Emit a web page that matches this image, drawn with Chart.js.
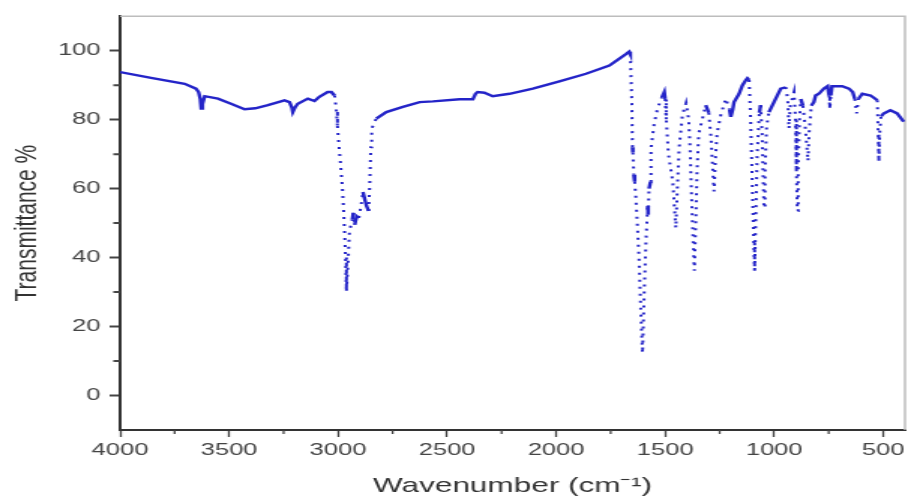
<!DOCTYPE html>
<html>
<head>
<meta charset="utf-8">
<script src="https://cdn.jsdelivr.net/npm/chart.js@4/dist/chart.umd.min.js"></script>
<style>
  html, body { margin: 0; padding: 0; background: #fff; overflow: hidden; }
  /* the reference is stretched sideways, so draw narrow and widen */
  #wrap { width: 607px; height: 500px; transform: scaleX(1.50082); transform-origin: 0 0; }
</style>
</head>
<body>
<div id="wrap"><canvas id="ir"></canvas></div>
<script>
// IR spectrum (cm-1, %T)
const wavenumber = [
  4000, 3858, 3704, 3652, 3640, 3632, 3628, 3622, 3612, 3551, 3500, 3429, 3380, 3322, 3246, 3223,
  3212, 3208, 3198, 3185, 3139, 3108, 3086, 3048, 3031, 3016, 3008, 3003, 2998, 2990, 2980, 2972,
  2966, 2962, 2955, 2948, 2935, 2930, 2924, 2915, 2905, 2895, 2886, 2878, 2870, 2860, 2855, 2850,
  2846, 2825, 2779, 2703, 2626, 2565, 2443, 2382, 2370, 2360, 2329, 2291, 2214, 2107, 1985, 1863,
  1756, 1680, 1665, 1660, 1653, 1650, 1648, 1644, 1640, 1635, 1628, 1620, 1612, 1604, 1596, 1588,
  1580, 1578, 1574, 1567, 1565, 1550, 1535, 1515, 1504, 1500, 1495, 1485, 1475, 1465, 1458, 1451,
  1444, 1436, 1421, 1404, 1392, 1386, 1380, 1372, 1366, 1360, 1354, 1346, 1330, 1314, 1300, 1290,
  1282, 1276, 1270, 1262, 1245, 1222, 1205, 1199, 1190, 1184, 1161, 1146, 1130, 1123, 1115, 1108,
  1100, 1094, 1090, 1085, 1078, 1068, 1062, 1055, 1050, 1047, 1042, 1035, 1024, 1001, 970, 947,
  938, 932, 926, 909, 902, 898, 894, 890, 884, 878, 868, 858, 850, 845, 840, 830,
  818, 810, 795, 772, 755, 748, 745, 740, 735, 688, 657, 640, 630, 622, 614, 596,
  558, 535, 527, 523, 520, 516, 510, 497, 467, 436, 406
];
const transmittance = [
  93.8, 92.1, 90.4, 89.0, 88.0, 86.0, 83.2, 84.5, 86.8, 86.1, 84.8, 83.0, 83.3, 84.2, 85.6, 85.1,
  83.5, 82.2, 83.5, 84.6, 86.1, 85.4, 86.6, 88.0, 88.0, 87.0, 82.7, 78.0, 74.0, 68.0, 60.0, 50.0,
  40.0, 30.4, 38.0, 47.7, 51.0, 53.0, 49.5, 52.0, 51.5, 55.0, 59.0, 57.0, 55.0, 53.5, 61.0, 72.0,
  77.4, 80.3, 82.2, 83.7, 85.1, 85.3, 85.9, 85.9, 87.5, 88.0, 87.8, 86.8, 87.5, 89.0, 91.1, 93.3,
  95.7, 99.0, 99.7, 99.0, 85.0, 72.0, 70.5, 64.0, 62.0, 58.0, 50.0, 40.0, 25.0, 12.3, 30.0, 45.0,
  55.0, 52.5, 60.0, 62.0, 71.7, 79.0, 83.2, 86.5, 88.0, 86.0, 80.0, 70.0, 66.0, 62.0, 55.0, 48.6,
  60.0, 71.7, 81.3, 84.8, 80.0, 72.0, 60.0, 45.0, 36.2, 50.0, 65.0, 76.0, 80.0, 84.2, 82.0, 75.0,
  66.0, 59.2, 68.0, 76.0, 81.3, 86.1, 83.0, 80.8, 83.0, 85.1, 87.5, 89.9, 91.5, 92.0, 91.5, 80.0,
  60.0, 45.0, 36.2, 50.0, 70.0, 82.0, 84.2, 75.0, 62.0, 54.4, 65.0, 78.0, 82.2, 85.1, 89.0, 89.4,
  86.0, 77.4, 84.0, 88.0, 80.0, 65.0, 53.5, 65.0, 80.0, 86.0, 84.0, 78.0, 72.0, 68.0, 76.0, 84.0,
  85.1, 87.0, 87.5, 89.0, 89.7, 87.0, 83.2, 87.0, 89.7, 89.7, 89.0, 88.0, 86.0, 81.8, 86.0, 87.5,
  87.0, 86.0, 85.6, 76.0, 67.8, 76.0, 81.0, 81.8, 82.7, 81.8, 79.4
];

const xMajor = [500, 1000, 1500, 2000, 2500, 3000, 3500, 4000];
const xMinor = [750, 1250, 1750, 2250, 2750, 3250, 3750];
const yMajor = [0, 20, 40, 60, 80, 100];
const yMinor = [10, 30, 50, 70, 90];

const FONT = "'Liberation Sans', Arial, sans-serif";
const LINE = "#2424c8";

// steep stretches look dotted in the reference
function steep(ctx) {
  const dx = Math.abs(ctx.p1.x - ctx.p0.x);
  const dy = Math.abs(ctx.p1.y - ctx.p0.y);
  return dy > 10 && dy > 3 * dx;
}

const framePlugin = {
  id: "frame",
  beforeDatasetsDraw(chart) {
    const { ctx, chartArea: a } = chart;
    ctx.save();
    ctx.strokeStyle = "#bdbdbd";
    ctx.lineWidth = 1.5;
    ctx.beginPath();
    ctx.moveTo(a.left, a.top);
    ctx.lineTo(a.right, a.top);
    ctx.lineTo(a.right, a.bottom);
    ctx.stroke();
    ctx.restore();
  },
  afterDraw(chart) {
    const { ctx, chartArea: a, scales } = chart;
    ctx.save();
    ctx.strokeStyle = "#444";
    ctx.lineWidth = 1.3;
    ctx.beginPath();
    xMinor.forEach((v) => {
      const px = scales.x.getPixelForValue(v);
      ctx.moveTo(px, a.bottom);
      ctx.lineTo(px, a.bottom + 4);
    });
    ctx.stroke();
    ctx.lineWidth = 2;
    ctx.beginPath();
    yMinor.forEach((v) => {
      const py = scales.y.getPixelForValue(v);
      ctx.moveTo(a.left - 4.5, py);
      ctx.lineTo(a.left, py);
    });
    ctx.stroke();
    ctx.restore();
  },
};

const points = wavenumber.map((w, i) => ({ x: w, y: transmittance[i] }));

new Chart(document.getElementById("ir"), {
  type: "line",
  data: {
    datasets: [{
      data: points,
      borderColor: LINE,
      borderWidth: 2.4,
      pointRadius: 0,
      tension: 0,
      fill: false,
      segment: {
        borderDash: (ctx) => (steep(ctx) ? [2, 5] : undefined),
        borderWidth: (ctx) => (steep(ctx) ? 2 : undefined),
      },
    }],
  },
  options: {
    animation: false,
    responsive: true,
    maintainAspectRatio: false,
    parsing: false,
    layout: { padding: { top: 14, right: 4, left: 0, bottom: 0 } },
    scales: {
      x: {
        type: "linear",
        reverse: true,
        min: 400,
        max: 4000,
        afterBuildTicks: (s) => { s.ticks = xMajor.map((v) => ({ value: v })); },
        afterFit: (s) => { s.height = 70; },
        grid: { drawOnChartArea: false, drawTicks: true, tickLength: 7, color: "#444", tickWidth: 1.3 },
        border: { display: true, color: "#333", width: 2 },
        ticks: {
          color: "#444",
          padding: 3,
          maxRotation: 0,
          font: { family: FONT, size: 17 },
          callback: (v) => String(v),
        },
        title: {
          display: true,
          text: "Wavenumber (cm\u207B\u00B9)",
          color: "#333",
          font: { family: FONT, size: 21, lineHeight: 1.2 },
          padding: { top: 0, bottom: 1 },
        },
      },
      y: {
        type: "linear",
        min: -10,
        max: 110,
        afterBuildTicks: (s) => { s.ticks = yMajor.map((v) => ({ value: v })); },
        afterFit: (s) => { s.width = 80; },
        grid: { drawOnChartArea: false, drawTicks: true, tickLength: 7, color: "#444", tickWidth: 2 },
        border: { display: true, color: "#333", width: 2 },
        ticks: {
          color: "#444",
          padding: 6,
          font: { family: FONT, size: 17 },
          callback: (v) => String(v),
        },
        title: {
          display: true,
          text: "Transmittance %",
          color: "#333",
          font: { family: FONT, size: 21, lineHeight: 1.2 },
          padding: { top: 6, bottom: 0 },
        },
      },
    },
    plugins: {
      legend: { display: false },
      tooltip: { enabled: false },
    },
  },
  plugins: [framePlugin],
});
</script>
</body>
</html>
